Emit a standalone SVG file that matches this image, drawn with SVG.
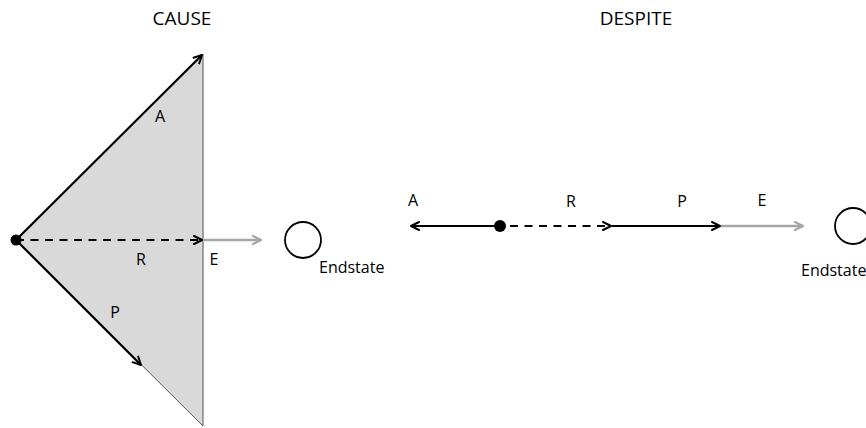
<svg xmlns="http://www.w3.org/2000/svg" width="866" height="428" viewBox="0 0 866 428">
  <style>
    text { font-family: "Open Sans", "Liberation Sans", sans-serif; font-size: 16px; fill: #000; }
    .title { font-size: 19px; }
    .solid { stroke: #000; stroke-width: 2.2; fill: none; }
    .dash { stroke: #000; stroke-width: 2.2; fill: none; stroke-dasharray: 8 6.5; }
    .grey { stroke: #a6a6a6; stroke-width: 2.5; fill: none; }
  </style>
  <defs>
    <marker id="head" viewBox="0 0 10 10" refX="9" refY="5" markerWidth="10" markerHeight="10" markerUnits="userSpaceOnUse" orient="auto">
      <path d="M1,1 L9,5 L1,9" fill="none" stroke="#000" stroke-width="2" stroke-linecap="round" stroke-linejoin="round"/>
    </marker>
    <marker id="headGrey" viewBox="0 0 10 10" refX="9" refY="5" markerWidth="10" markerHeight="10" markerUnits="userSpaceOnUse" orient="auto">
      <path d="M1,1 L9,5 L1,9" fill="none" stroke="#a6a6a6" stroke-width="2.2" stroke-linecap="round" stroke-linejoin="round"/>
    </marker>
  </defs>

  <text class="title" x="182" y="25" text-anchor="middle">CAUSE</text>
  <text class="title" x="636" y="25" text-anchor="middle">DESPITE</text>

  <!-- CAUSE: force triangle -->
  <g id="cause-region">
    <polygon points="16,240 203,54 203,426" fill="#d9d9d9" stroke="#555" stroke-width="1"/>
  </g>
  <g id="cause-connectors">
    <line class="solid" x1="16" y1="240" x2="202" y2="55" marker-end="url(#head)"/>
    <line class="dash" x1="16" y1="240" x2="202" y2="240" marker-end="url(#head)"/>
    <line class="solid" x1="16" y1="240" x2="141" y2="365" marker-end="url(#head)"/>
    <line class="grey" x1="204" y1="240" x2="261" y2="240" marker-end="url(#headGrey)"/>
  </g>
  <g id="cause-origin"><circle cx="16" cy="240" r="5.5" fill="#000"/></g>
  <g id="cause-endstate">
    <circle cx="303" cy="240" r="18" fill="none" stroke="#000" stroke-width="1.8"/>
    <text x="319" y="273">Endstate</text>
  </g>
  <g id="cause-labels">
    <text x="160" y="122" text-anchor="middle">A</text>
    <text x="141" y="265" text-anchor="middle">R</text>
    <text x="214" y="265" text-anchor="middle">E</text>
    <text x="115" y="318" text-anchor="middle">P</text>
  </g>

  <!-- DESPITE: forces on a line -->
  <g id="despite-connectors">
    <line class="solid" x1="499" y1="226" x2="411" y2="226" marker-end="url(#head)"/>
    <line class="dash" x1="510" y1="226" x2="611" y2="226" marker-end="url(#head)"/>
    <line class="solid" x1="612" y1="226" x2="720" y2="226" marker-end="url(#head)"/>
    <line class="grey" x1="721" y1="226" x2="803" y2="226" marker-end="url(#headGrey)"/>
  </g>
  <g id="despite-origin"><circle cx="500" cy="226" r="6" fill="#000"/></g>
  <g id="despite-endstate">
    <circle cx="853" cy="226" r="18" fill="none" stroke="#000" stroke-width="1.8"/>
    <text x="801" y="276">Endstate</text>
  </g>
  <g id="despite-labels">
    <text x="413" y="206" text-anchor="middle">A</text>
    <text x="571" y="207" text-anchor="middle">R</text>
    <text x="682" y="207" text-anchor="middle">P</text>
    <text x="762" y="206" text-anchor="middle">E</text>
  </g>
</svg>
